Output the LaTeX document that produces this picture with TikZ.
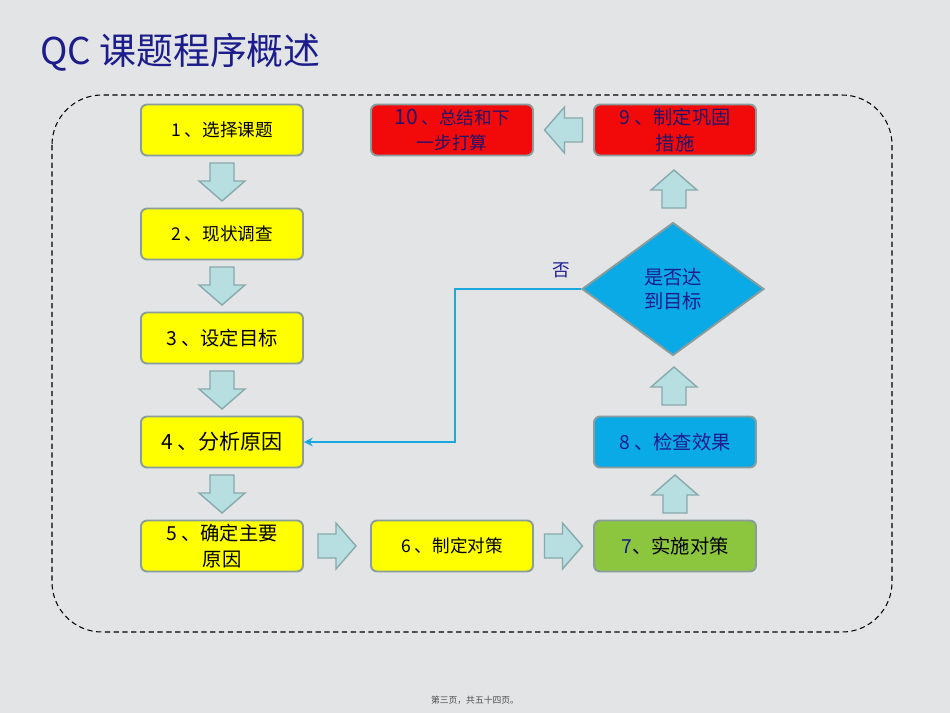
\documentclass[tikz,border=0pt]{standalone}
\usepackage{fontspec}
\setmainfont{Noto Sans CJK SC}
\usepackage{xcolor}
\usetikzlibrary{shapes.geometric,arrows.meta,positioning,calc}

\definecolor{bgcol}{HTML}{E2E4E6}
\definecolor{boxline}{HTML}{8A9C9C}
\definecolor{boxyellow}{HTML}{FFFF00}
\definecolor{boxred}{HTML}{F20A0A}
\definecolor{boxgreen}{HTML}{8CC63F}
\definecolor{boxblue}{HTML}{0AAAE6}
\definecolor{arrowfill}{HTML}{B7DEE0}
\definecolor{arrowline}{HTML}{88AAAC}
\definecolor{navy}{HTML}{1C1C8C}
\definecolor{darknavy}{HTML}{22146A}
\definecolor{fbcol}{HTML}{1AA8E0}

\tikzset{
    blkarrow/.pic={
        \draw[fill=arrowfill, draw=arrowline, line width=0.8pt]
            (-12,-19) -- (12,-19) -- (12,-1) -- (23,-1) -- (0,19) -- (-23,-1) -- (-12,-1) -- cycle;
    }
}

\begin{document}
\begin{tikzpicture}[x=0.02cm, y=-0.02cm,
    stepbox/.style={draw=boxline, line width=1.1pt, rounded corners=0.12cm,
        minimum width=3.24cm, minimum height=1.02cm, inner sep=1pt, align=center,
        font=\fontsize{10}{14}\selectfont},
    fbline/.style={draw=fbcol, line width=1.6pt}]

    % Background
    \fill[bgcol] (0,0) rectangle (950,713);

    % Title
    \node[anchor=west, text=navy, font=\fontsize{21}{24}\selectfont] (title) at (34,52) {QC 课题程序概述};

    % Dashed frame
    \draw[dash pattern=on 3pt off 2pt, line width=0.6pt, rounded corners=1cm] (52,95) rectangle (892,632);

    % Left column
    \node[stepbox, fill=boxyellow] (b1) at (222,130) {1 、选择课题};
    \node[stepbox, fill=boxyellow] (b2) at (222,234) {2 、现状调查};
    \node[stepbox, fill=boxyellow, font=\fontsize{11}{14}\selectfont] (b3) at (222,338) {3 、设定目标};
    \node[stepbox, fill=boxyellow, font=\fontsize{12}{14}\selectfont] (b4) at (222,442) {4 、分析原因};
    \node[stepbox, fill=boxyellow, font=\fontsize{11}{15}\selectfont] (b5) at (222,546) {5 、确定主要\\原因};

    % Bottom row
    \node[stepbox, fill=boxyellow] (b6) at (452,546) {6 、制定对策};
    \node[stepbox, fill=boxgreen, font=\fontsize{11}{14}\selectfont] (b7) at (675,546) {{\color{navy}7}、实施对策};

    % Right column
    \node[stepbox, fill=boxblue, text=navy, font=\fontsize{11}{14}\selectfont] (b8) at (675,442) {8 、检查效果};
    \node[diamond, draw=boxline, line width=1.1pt, fill=boxblue, minimum width=3.64cm, minimum height=2.66cm,
        inner sep=0pt, align=center, text=navy, font=\fontsize{11}{14}\selectfont] (dia) at (673,289) {是否达\\到目标};
    \node[stepbox, fill=boxred, text=darknavy, font=\fontsize{11}{15}\selectfont] (b9) at (675,130) {9 、制定巩固\\措施};
    \node[stepbox, fill=boxred, text=darknavy] (b10) at (452,130) {{\fontsize{12}{14}\selectfont 10} 、总结和下\\一步打算};

    % Block arrows
    \pic at ($(b1.south)!0.5!(b2.north)$) {blkarrow};
    \pic at ($(b2.south)!0.5!(b3.north)$) {blkarrow};
    \pic at ($(b3.south)!0.5!(b4.north)$) {blkarrow};
    \pic at ($(b4.south)!0.5!(b5.north)$) {blkarrow};
    \pic[rotate=90] at ($(b5.east)!0.5!(b6.west)$) {blkarrow};
    \pic[rotate=90] at ($(b6.east)!0.5!(b7.west)$) {blkarrow};
    \pic[rotate=180] at ($(b7.north)!0.5!(b8.south)$) {blkarrow};
    \pic[rotate=180] at ($(b8.north)!0.5!(dia.south)$) {blkarrow};
    \pic[rotate=180] at ($(dia.north)!0.5!(b9.south)$) {blkarrow};
    \pic[rotate=-90] at ($(b9.west)!0.5!(b10.east)$) {blkarrow};

    % Feedback
    \draw[fbline, -{Stealth[length=5pt, width=5pt]}] (dia.west) -- ++(-126,0) coordinate (turn) |- (b4.east);
    \node[text=navy, font=\fontsize{10}{11}\selectfont] (no) at ($(dia.west)+(-20,-19)$) {否};

    % Footer
    \node[text=black!70, font=\fontsize{5}{6}\selectfont] (foot) at (475,700) {第三页，共五十四页。};
\end{tikzpicture}
\end{document}
